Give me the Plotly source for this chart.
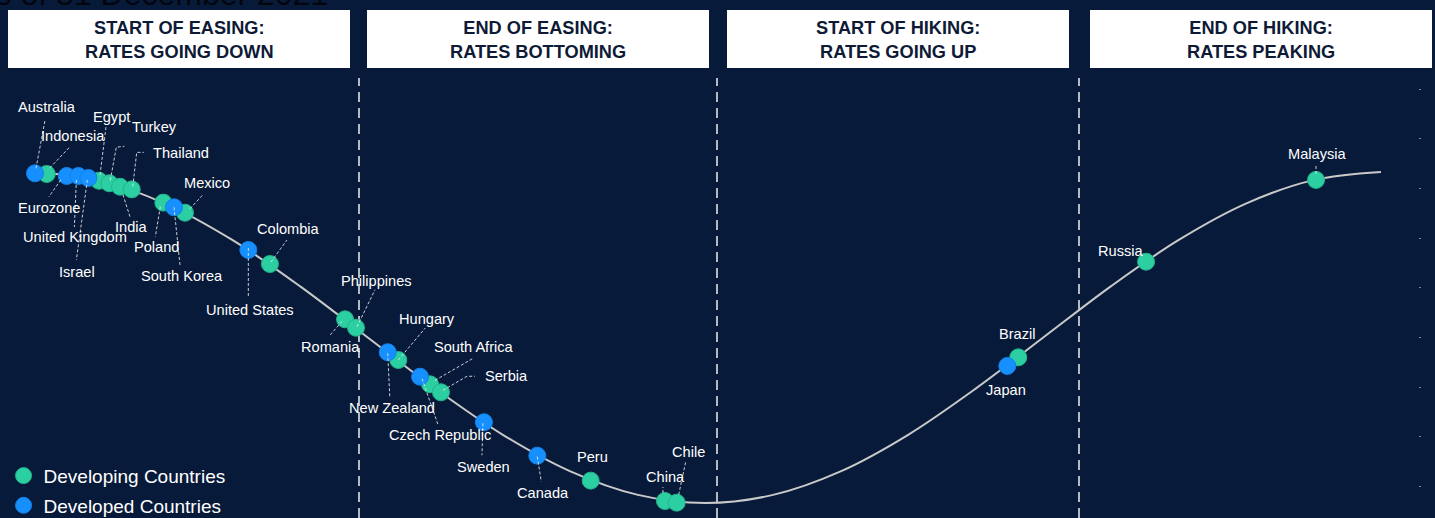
import plotly.graph_objects as go

# ---------------- data ----------------
countries = ["Australia", "Indonesia", "Eurozone", "United Kingdom", "Israel", "Egypt", "Turkey",
             "India", "Thailand", "Poland", "South Korea", "Mexico", "United States", "Colombia",
             "Romania", "Philippines", "New Zealand", "Hungary", "Czech Republic", "South Africa",
             "Serbia", "Sweden", "Canada", "Peru", "China", "Chile", "Japan", "Brazil", "Russia",
             "Malaysia"]
cycle_pos = [0.37, 1.24, 2.72, 3.58, 4.32, 5.11, 5.87, 6.66, 7.53, 9.87, 10.66, 11.47, 16.16, 17.76,
             23.32, 24.13, 26.48, 27.26, 28.87, 29.61, 30.42, 33.60, 37.55, 41.50, 47.00, 47.87,
             72.34, 73.15, 82.61, 95.19]
rate_level = [0.992, 0.988, 0.976, 0.976, 0.964, 0.947, 0.932, 0.911, 0.895, 0.815, 0.787, 0.754,
              0.529, 0.444, 0.110, 0.059, -0.089, -0.136, -0.237, -0.283, -0.331, -0.512, -0.714,
              -0.865, -0.988, -0.998, -0.172, -0.120, 0.458, 0.952]
group = ["Developed", "Developing", "Developed", "Developed", "Developed", "Developing", "Developing",
         "Developing", "Developing", "Developing", "Developed", "Developing", "Developed", "Developing",
         "Developing", "Developing", "Developed", "Developing", "Developed", "Developing",
         "Developing", "Developed", "Developed", "Developing", "Developing", "Developing",
         "Developed", "Developing", "Developing", "Developing"]

curve_x = [0, 5, 10, 15, 20, 25, 30, 35, 40, 45, 50, 55, 60, 65, 70, 75, 80, 85, 90, 95, 100]
curve_y = [1.0, 0.951, 0.809, 0.588, 0.309, 0.0, -0.309, -0.588, -0.809, -0.951, -1.0, -0.951,
           -0.809, -0.588, -0.309, 0.0, 0.309, 0.588, 0.809, 0.951, 1.0]

phase_titles = ["START OF EASING:<br>RATES GOING DOWN", "END OF EASING:<br>RATES BOTTOMING",
                "START OF HIKING:<br>RATES GOING UP", "END OF HIKING:<br>RATES PEAKING"]
legend_names = {"Developing": "Developing Countries", "Developed": "Developed Countries"}
title_text = "Monetary policy cycle as of 31 December 2021"

# ---------------- style / layout (pixels) ----------------
BG = "#081a3a"
GREEN = "#2ccfa2"
BLUE = "#1790ff"
W, H = 1435, 518
MR = 17
PW = W - MR

# label offsets (dx, dy screen pixels, dy down)
label_off = {
    "Australia": (12, -66), "Indonesia": (26, -38), "Eurozone": (-18, 32), "United Kingdom": (-3, 61),
    "Israel": (-11, 94), "Egypt": (12, -64), "Turkey": (45, -56), "India": (12, 40),
    "Thailand": (49, -36), "Poland": (-7, 44), "South Korea": (8, 69), "Mexico": (22, -30),
    "United States": (2, 60), "Colombia": (19, -35), "Romania": (-15, 28), "Philippines": (20, -47),
    "New Zealand": (4, 56), "Hungary": (29, -41), "Czech Republic": (20, 58),
    "South Africa": (44, -37), "Serbia": (66, -16), "Sweden": (0, 45), "Canada": (6, 37),
    "Peru": (2, -24), "China": (1, -24), "Chile": (12, -51), "Japan": (-1, 24), "Brazil": (-1, -23),
    "Russia": (-26, -11), "Malaysia": (1, -26),
}
# leader line paths (screen px relative to dot)
leader = {
    "Australia": [(1, -5), (10, -53)], "Indonesia": [(3, -6), (23, -27)],
    "Eurozone": [(-6, 4), (-18, 21)], "United Kingdom": [(-2, 4), (-4, 51)],
    "Israel": [(-1, 2), (-12, 82)], "Egypt": [(1, -6), (7, -54)],
    "Turkey": [(1, -3), (7, -36), (15, -37)], "India": [(3, 8), (10, 30)],
    "Thailand": [(1, -3), (5, -37), (12, -37)], "Poland": [(-3, 4), (-8, 34)],
    "South Korea": [(0, 0), (6, 58)], "Mexico": [(5, -4), (18, -18)],
    "United States": [(0, -2), (0, 48)], "Colombia": [(1, -2), (17, -24)],
    "Romania": [(-3, 2), (-16, 17)], "Philippines": [(1, -1), (19, -38)],
    "New Zealand": [(0, 1), (2, 44)], "Hungary": [(0, 0), (27, -32)],
    "Czech Republic": [(2, 2), (18, 48)], "South Africa": [(5, -4), (43, -26)],
    "Serbia": [(2, -2), (26, -16), (34, -16)], "Sweden": [(-1, 1), (-2, 33)],
    "Canada": [(0, 1), (4, 26)], "China": [(-2, -8), (-2, -14)], "Chile": [(2, -8), (9, -41)],
    "Malaysia": [(0, -6), (0, -14)],
}

fig = go.Figure()

fig.add_trace(go.Scatter(x=curve_x, y=curve_y, mode="lines",
                         line=dict(color="#c9c9c9", width=2, shape="spline", smoothing=1.0),
                         hoverinfo="skip", showlegend=False))

for g, col, edge in [("Developing", GREEN, "#22b48c"), ("Developed", BLUE, "#1380e6")]:
    idx = [i for i, v in enumerate(group) if v == g]
    fig.add_trace(go.Scatter(
        x=[cycle_pos[i] for i in idx], y=[rate_level[i] for i in idx],
        text=[countries[i] for i in idx], mode="markers", name=legend_names[g],
        legendgroup=g,
        marker=dict(size=17, color=col, line=dict(color=edge, width=1)),
        hovertemplate="%{text}<extra></extra>"))

shapes = []
annotations = []

for c, xv, yv in zip(countries, cycle_pos, rate_level):
    dx, dy = label_off[c]
    annotations.append(dict(x=xv, y=yv, xref="x", yref="y", text=c, showarrow=False,
                            xshift=dx, yshift=-dy, xanchor="center", yanchor="middle",
                            font=dict(family="Liberation Sans, Arial, sans-serif", size=14.6,
                                      color="#ffffff")))
    if c in leader:
        pts = leader[c]
        path = "M" + " L".join(f"{px},{-py}" for px, py in pts)
        shapes.append(dict(type="path", xref="x", yref="y", xsizemode="pixel", ysizemode="pixel",
                           xanchor=xv, yanchor=yv, path=path, layer="above",
                           line=dict(color="rgba(235,235,235,0.85)", width=1, dash="3px,2px")))

# phase header boxes
box_px = [(8, 350), (367, 709), (727, 1069), (1090, 1432)]
for (x0, x1), t in zip(box_px, phase_titles):
    shapes.append(dict(type="rect", xref="paper", yref="paper", x0=x0 / PW, x1=x1 / PW,
                       y0=1 - 68 / H, y1=1 - 10 / H, fillcolor="#ffffff",
                       line=dict(color="#ffffff", width=0), layer="above"))
    annotations.append(dict(x=(x0 + x1) / 2 / PW, y=1 - 39.5 / H, xref="paper", yref="paper",
                            text="<b>" + t + "</b>", showarrow=False, xanchor="center",
                            yanchor="middle",
                            font=dict(family="Liberation Sans, Arial, sans-serif",
                                      size=18.2, color="#0e1a36")))

# dashed dividers
for xp in [359, 717, 1079]:
    shapes.append(dict(type="line", xref="paper", yref="paper", x0=xp / PW, x1=xp / PW,
                       y0=0, y1=1 - 78 / H, layer="below",
                       line=dict(color="#b5b9c2", width=2, dash="10px,6px")))

# clipped title at top
annotations.append(dict(x=330 / PW, y=1, xref="paper", yref="paper", text=title_text,
                        showarrow=False, xanchor="right", yanchor="bottom", yshift=-14,
                        font=dict(family="Liberation Sans, Arial", size=32, color="#02050c")))

fig.update_layout(
    width=W, height=H, margin=dict(l=0, r=MR, t=0, b=0, autoexpand=False),
    paper_bgcolor=BG, plot_bgcolor=BG,
    xaxis=dict(range=[-30 / 13.51, (PW - 30) / 13.51], visible=False, fixedrange=True),
    yaxis=dict(range=[(337.5 - H) / 165.5, 337.5 / 165.5], side="right", showgrid=False,
               zeroline=False, showline=False, ticks="outside", ticklen=2, tickwidth=1,
               tickcolor="#7d869a", tick0=0, dtick=0.3, showticklabels=False, fixedrange=True),
    shapes=shapes, annotations=annotations,
    showlegend=True,
    legend=dict(x=0.0025, y=-0.013, xanchor="left", yanchor="bottom", bgcolor="rgba(0,0,0,0)",
                font=dict(family="Liberation Sans, Arial", size=19, color="#ffffff"),
                itemsizing="trace", tracegroupgap=2),
)

fig.write_html("out.html", config={"displayModeBar": False})
